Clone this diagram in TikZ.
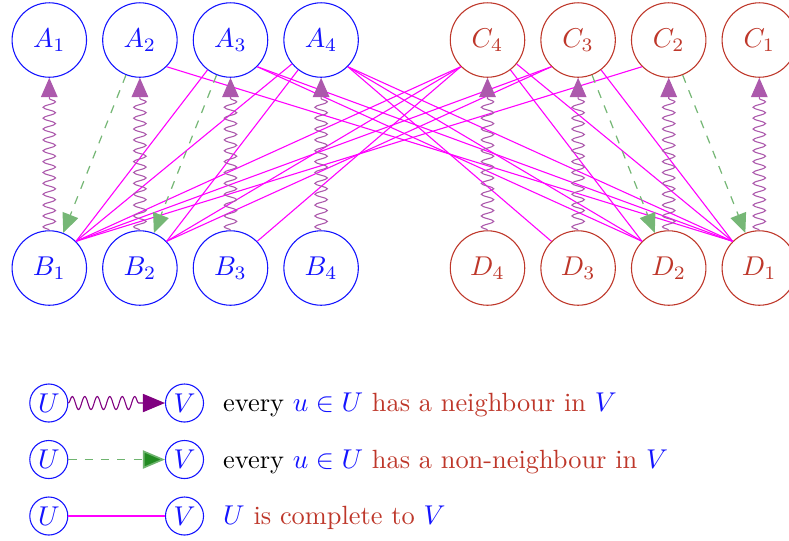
\documentclass[tikz,border=0pt]{standalone}
\usetikzlibrary{arrows.meta,decorations.pathmorphing}
\definecolor{myred}{RGB}{190,55,42}
\definecolor{lgreen}{RGB}{34,139,34}
\definecolor{lviolet}{RGB}{128,0,128}
\definecolor{mymagenta}{RGB}{255,0,255}
\definecolor{myblue}{RGB}{20,20,255}
\begin{document}
\begin{tikzpicture}[x=0.368pt,y=-0.368pt,font=\fontsize{9.7pt}{11.6pt}\selectfont,
  bluenode/.style={circle,draw=myblue,text=myblue,line width=0.4pt,minimum size=27.4pt,inner sep=0pt},
  rednode/.style={circle,draw=myred,text=myred,line width=0.4pt,minimum size=27.4pt,inner sep=0pt},
  legnode/.style={circle,draw=myblue,text=myblue,line width=0.4pt,minimum size=14pt,inner sep=0pt},
  mline/.style={mymagenta,line width=0.4pt},
  snakearrow/.style={draw=lviolet!65,line width=0.4pt,
    -{Triangle[length=7.1pt,width=6.1pt,fill=lviolet!65]},
    decorate,decoration={snake,amplitude=2.3pt,segment length=4pt,post length=7.4pt}},
  dasharrow/.style={draw=lgreen!62,line width=0.45pt,dashed,
    -{Triangle[length=7.1pt,width=6.1pt,fill=lgreen!62]}},
  legsnake/.style={draw=lviolet,line width=0.4pt,
    -{Triangle[length=8.1pt,width=6.7pt,fill=lviolet]},
    decorate,decoration={snake,amplitude=2.4pt,segment length=4.6pt,post length=8.4pt}},
  legdash/.style={draw=lgreen!65,line width=0.6pt,dashed,
    -{Triangle[length=8.1pt,width=6.7pt,fill=lgreen]}},
  legline/.style={mymagenta,line width=0.6pt},
  legtext/.style={anchor=base west,inner sep=0pt}]
\useasboundingbox (0,0) rectangle (789,540);
% top and bottom rows
\node[bluenode] (A1) at (49.3,40) {$A_1$};
\node[bluenode] (A2) at (139.9,40) {$A_2$};
\node[bluenode] (A3) at (230.5,40) {$A_3$};
\node[bluenode] (A4) at (321.1,40) {$A_4$};
\node[bluenode] (B1) at (49.3,268) {$B_1$};
\node[bluenode] (B2) at (139.9,268) {$B_2$};
\node[bluenode] (B3) at (230.5,268) {$B_3$};
\node[bluenode] (B4) at (321.1,268) {$B_4$};
\node[rednode] (C4) at (487.5,40) {$C_4$};
\node[rednode] (C3) at (578.1,40) {$C_3$};
\node[rednode] (C2) at (668.7,40) {$C_2$};
\node[rednode] (C1) at (759.3,40) {$C_1$};
\node[rednode] (D4) at (487.5,268) {$D_4$};
\node[rednode] (D3) at (578.1,268) {$D_3$};
\node[rednode] (D2) at (668.7,268) {$D_2$};
\node[rednode] (D1) at (759.3,268) {$D_1$};
% complete edges
\draw[mline] (B1.north east) -- (A3);
\draw[mline] (B1.north east) -- (A4);
\draw[mline] (B2.north east) -- (A4);
\draw[mline] (C3) -- (D1.north west);
\draw[mline] (C4) -- (D1.north west);
\draw[mline] (C4) -- (D2.north west);
\draw[mline] (B1.north east) -- (C4.south west);
\draw[mline] (B1.north east) -- (C3.south west);
\draw[mline] (B1.north east) -- (C2.south west);
\draw[mline] (B2.north east) -- (C4.south west);
\draw[mline] (B2.north east) -- (C3.south west);
\draw[mline] (B3.north east) -- (C4.south west);
\draw[mline] (A4.south east) -- (D1.north west);
\draw[mline] (A3.south east) -- (D1.north west);
\draw[mline] (A2.south east) -- (D1.north west);
\draw[mline] (A4.south east) -- (D2.north west);
\draw[mline] (A3.south east) -- (D2.north west);
\draw[mline] (A4.south east) -- (D3.north west);
% neighbour arrows
\draw[snakearrow] (B1) -- (A1);
\draw[snakearrow] (B2) -- (A2);
\draw[snakearrow] (B3) -- (A3);
\draw[snakearrow] (B4) -- (A4);
\draw[snakearrow] (D4) -- (C4);
\draw[snakearrow] (D3) -- (C3);
\draw[snakearrow] (D2) -- (C2);
\draw[snakearrow] (D1) -- (C1);
% non-neighbour arrows
\draw[dasharrow] (A2) -- (B1);
\draw[dasharrow] (A3) -- (B2);
\draw[dasharrow] (C3) -- (D2);
\draw[dasharrow] (C2) -- (D1);
% legend
\node[legnode] (U1) at (48.8,403) {$U$};
\node[legnode] (V1) at (184.5,403) {$V$};
\node[legnode] (U2) at (48.8,459.5) {$U$};
\node[legnode] (V2) at (184.5,459.5) {$V$};
\node[legnode] (U3) at (48.8,516) {$U$};
\node[legnode] (V3) at (184.5,516) {$V$};
\draw[legsnake] (U1) -- (V1);
\draw[legdash] (U2) -- (V2);
\draw[legline] (U3) -- (V3);
\node[legtext] (T1) at (222.7,411.7) {every \textcolor{myblue}{$u\in U$} \textcolor{myred}{has a neighbour in} \textcolor{myblue}{$V$}};
\node[legtext] (T2) at (222.7,468.2) {every \textcolor{myblue}{$u\in U$} \textcolor{myred}{has a non-neighbour in} \textcolor{myblue}{$V$}};
\node[legtext] (T3) at (222.7,524.7) {\textcolor{myblue}{$U$} \textcolor{myred}{is complete to} \textcolor{myblue}{$V$}};
\end{tikzpicture}
\end{document}
